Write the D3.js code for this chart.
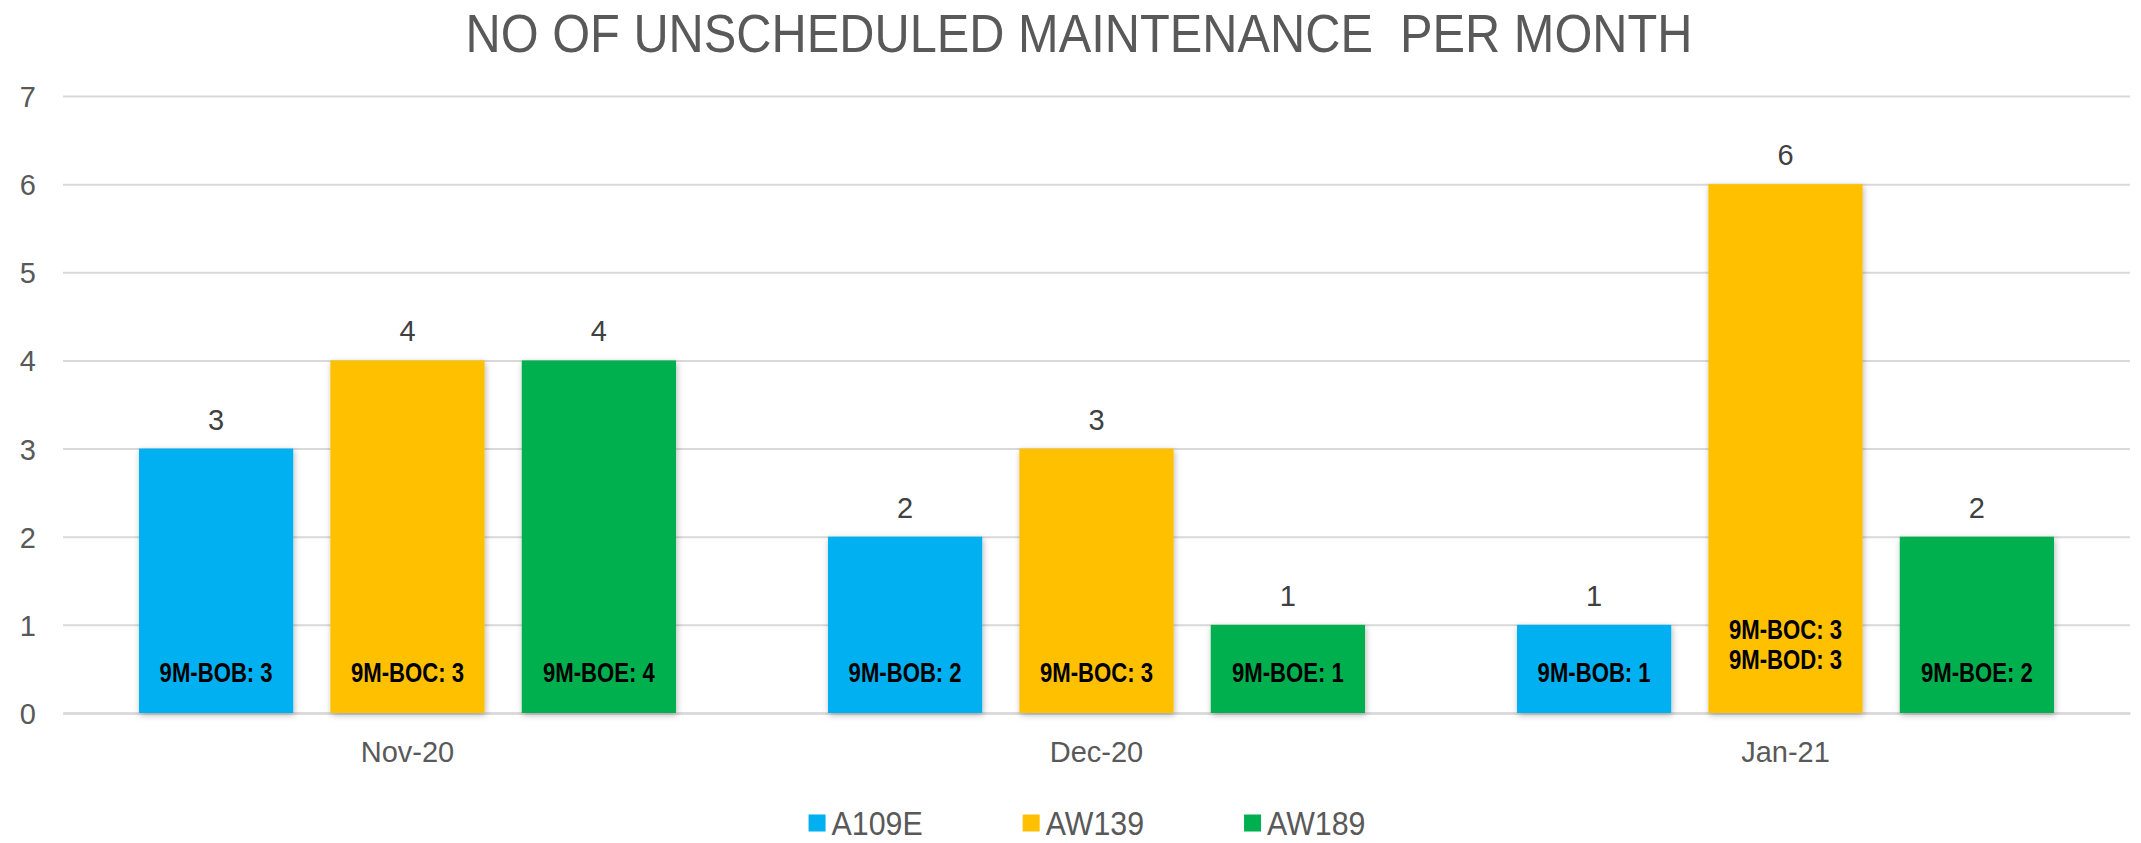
<!DOCTYPE html>
<html>
<head>
<meta charset="utf-8">
<script src="https://cdn.jsdelivr.net/npm/d3@7"></script>
<style>
  body { margin: 0; background: #fff; }
  text { font-family: "Liberation Sans", Arial, sans-serif; }
</style>
</head>
<body>
<div id="chart"></div>
<script>
// data
const months = ["Nov-20", "Dec-20", "Jan-21"];
const series = ["A109E", "AW139", "AW189"];
const a109e = [3, 2, 1];
const aw139 = [4, 3, 6];
const aw189 = [4, 1, 2];
const a109eRegs = [["9M-BOB: 3"], ["9M-BOB: 2"], ["9M-BOB: 1"]];
const aw139Regs = [["9M-BOC: 3"], ["9M-BOC: 3"], ["9M-BOC: 3", "9M-BOD: 3"]];
const aw189Regs = [["9M-BOE: 4"], ["9M-BOE: 1"], ["9M-BOE: 2"]];
const yTicks = [0, 1, 2, 3, 4, 5, 6, 7];
const colors = ["#00B0F0", "#FFC000", "#00B050"];

const width = 2141,
    height = 843,
    plotLeft = 63,
    plotRight = 2130,
    plotTop = 96,
    plotBottom = 713;

const values = [a109e, aw139, aw189];
const regs = [a109eRegs, aw139Regs, aw189Regs];

// one row per bar
let rows = [];
months.forEach((m, i) => {
    series.forEach((s, j) => {
        rows.push({month: m, serie: s, value: values[j][i], regs: regs[j][i], color: colors[j]});
    });
});

const svg = d3.select("#chart")
    .append("svg")
    .attr("width", width)
    .attr("height", height);

const defs = svg.append("defs");
defs.append("filter")
    .attr("id", "sombra")
    .attr("x", "-20%").attr("y", "-20%")
    .attr("width", "140%").attr("height", "140%")
    .append("feDropShadow")
    .attr("dx", 1).attr("dy", 2)
    .attr("stdDeviation", 3)
    .attr("flood-color", "#000")
    .attr("flood-opacity", 0.28);

const x0 = d3.scaleBand().domain(months).range([plotLeft, plotRight]);
const x1 = d3.scaleBand().domain(series)
    .range([76, x0.bandwidth() - 76])
    .paddingInner(0.194);
const y = d3.scaleLinear().domain([0, 7]).range([plotBottom, plotTop]);

// titulo (letra estrecha: se comprime con textLength)
svg.append("text")
    .attr("x", 1079)
    .attr("y", 52)
    .attr("text-anchor", "middle")
    .attr("font-size", 54)
    .attr("fill", "#595959")
    .attr("textLength", 1227)
    .attr("lengthAdjust", "spacingAndGlyphs")
    .style("white-space", "pre")
    .text("NO OF UNSCHEDULED MAINTENANCE  PER MONTH");

// grid
const yAxis = svg.append("g")
    .attr("transform", `translate(${plotLeft},0)`)
    .call(d3.axisLeft(y)
        .tickValues(yTicks)
        .tickFormat(d3.format("d"))
        .tickSize(-(plotRight - plotLeft))
        .tickPadding(0));
yAxis.select(".domain").remove();
yAxis.selectAll(".tick line")
    .attr("stroke", "#d9d9d9")
    .attr("stroke-width", 2);
yAxis.selectAll(".tick text")
    .attr("x", -27)
    .attr("text-anchor", "end")
    .attr("dy", "0.36em")
    .attr("font-size", 29)
    .attr("fill", "#595959");

// eje x
const xAxis = svg.append("g")
    .attr("transform", `translate(0,${plotBottom})`)
    .call(d3.axisBottom(x0).tickSize(0).tickPadding(28));
xAxis.select(".domain")
    .attr("stroke", "#d9d9d9")
    .attr("stroke-width", 2.5);
xAxis.selectAll(".tick text")
    .attr("font-size", 29)
    .attr("fill", "#595959");

// barras
const grupos = svg.selectAll(".grupo")
    .data(rows)
    .enter().append("g")
    .attr("class", "grupo")
    .attr("transform", d => `translate(${x0(d.month) + x1(d.serie)},0)`);

grupos.append("rect")
    .attr("x", 0)
    .attr("y", d => y(d.value))
    .attr("width", x1.bandwidth())
    .attr("height", d => y(0) - y(d.value))
    .attr("fill", d => d.color)
    .attr("filter", "url(#sombra)");

// valor arriba
grupos.append("text")
    .attr("x", x1.bandwidth() / 2)
    .attr("y", d => y(d.value) - 19)
    .attr("text-anchor", "middle")
    .attr("font-size", 29)
    .attr("fill", "#404040")
    .text(d => d.value);

// matriculas dentro de la barra
grupos.each(function(d) {
    const n = d.regs.length;
    d3.select(this).selectAll(".reg")
        .data(d.regs)
        .enter().append("text")
        .attr("class", "reg")
        .attr("transform", (r, k) => {
            const yy = y(0) - 31 - 13 * (n - 1) - 30 * (n - 1 - k);
            return `translate(${x1.bandwidth() / 2},${yy}) scale(0.82,1)`;
        })
        .attr("text-anchor", "middle")
        .attr("font-size", 27)
        .attr("font-weight", "bold")
        .attr("fill", "#000")
        .text(r => r);
});

// leyenda
const leyenda = svg.append("g").attr("transform", "translate(0,823)");
const items = leyenda.selectAll(".item")
    .data(series)
    .enter().append("g")
    .attr("class", "item");
items.append("rect")
    .attr("y", -8.5)
    .attr("width", 17)
    .attr("height", 17)
    .attr("fill", (d, i) => colors[i]);
items.append("text")
    .attr("transform", "translate(23,0) scale(0.92,1)")
    .attr("dy", "0.36em")
    .attr("font-size", 33)
    .attr("fill", "#595959")
    .text(d => d);

const anchos = [];
items.each(function() {
    anchos.push(23 + 0.92 * this.querySelector("text").getComputedTextLength());
});
const gap = 100;
const total = d3.sum(anchos) + gap * (anchos.length - 1);
let pos = 1087 - total / 2;
items.attr("transform", (d, i) => {
    const t = `translate(${pos},0)`;
    pos += anchos[i] + gap;
    return t;
});
</script>
</body>
</html>
